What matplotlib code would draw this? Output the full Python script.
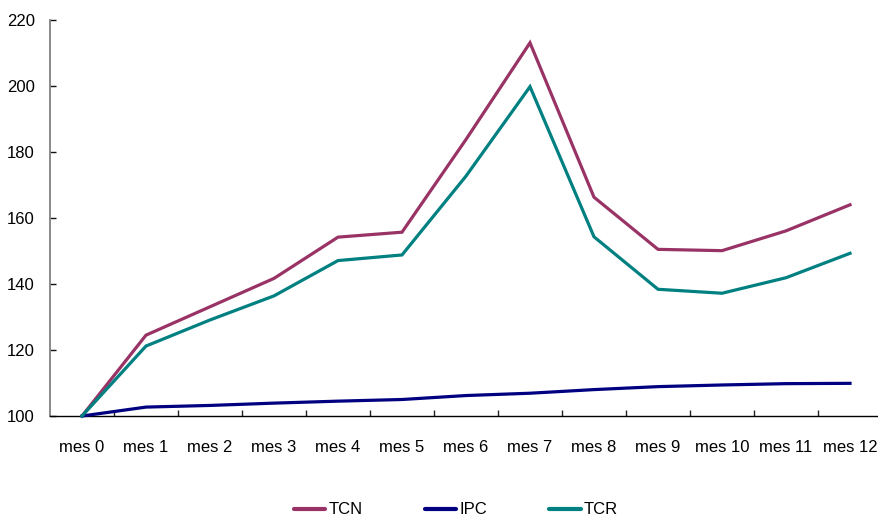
import matplotlib
matplotlib.use("Agg")
import matplotlib.pyplot as plt
from matplotlib.lines import Line2D

plt.rcParams['font.family'] = ['Liberation Sans', 'DejaVu Sans']

meses = ["mes 0", "mes 1", "mes 2", "mes 3", "mes 4", "mes 5", "mes 6",
         "mes 7", "mes 8", "mes 9", "mes 10", "mes 11", "mes 12"]
tcn = [100, 124.5, 133.1, 141.7, 154.2, 155.7, 183.8, 213.1, 166.3, 150.5, 150.1, 156.1, 164.0]
ipc = [100, 102.7, 103.2, 103.9, 104.5, 105.0, 106.2, 106.9, 108.0, 108.9, 109.4, 109.8, 109.9]
tcr = [100, 121.2, 129.1, 136.4, 147.1, 148.8, 172.7, 199.8, 154.3, 138.4, 137.2, 141.9, 149.3]
y_ticks = [100, 120, 140, 160, 180, 200, 220]

series = [("TCN", tcn, "#993366"), ("IPC", ipc, "#000080"), ("TCR", tcr, "#008080")]

W, H = 879, 521
fig = plt.figure(figsize=(W / 100, H / 100), dpi=100)
left, right, bottom, top = 50 / W, 882 / W, 1 - 416 / H, 1 - 20 / H
ax = fig.add_axes([left, bottom, right - left, top - bottom])

x = list(range(len(meses)))
for name, vals, color in series:
    ax.plot(x, vals, color=color, lw=2.3, solid_joinstyle='miter', clip_on=False, zorder=3)

ax.set_xlim(-0.5, len(meses) - 0.5)
ax.set_ylim(100, 220)
ax.set_yticks(y_ticks)
ax.set_yticklabels([str(v) for v in y_ticks], fontsize=12)

# category labels centred, ticks on category boundaries
ax.set_xticks(x)
ax.set_xticklabels(meses, fontsize=12)
ax.tick_params(axis='x', which='major', length=0, pad=17)
ax.set_xticks([i + 0.5 for i in range(len(meses) - 1)], minor=True)
ax.tick_params(axis='x', which='minor', direction='in', length=4.5, width=1, color='#222222')
ax.tick_params(axis='y', direction='in', length=4.5, width=1, color='#111111', pad=11)

for s in ('top', 'right'):
    ax.spines[s].set_visible(False)
ax.spines['left'].set_color('#808080')
ax.spines['left'].set_linewidth(1.3)
ax.spines['bottom'].set_color('#000000')
ax.spines['bottom'].set_linewidth(1.0)

handles = [Line2D([0], [0], color=c, lw=3, solid_capstyle='round') for _, _, c in series]
fig.legend(handles, [n for n, _, _ in series], loc='center', ncol=3,
           bbox_to_anchor=(456 / W, 1 - 510 / H), frameon=False, fontsize=12,
           handlelength=1.9, handletextpad=0.2, columnspacing=3.7)

fig.savefig("out.png", dpi=100)
